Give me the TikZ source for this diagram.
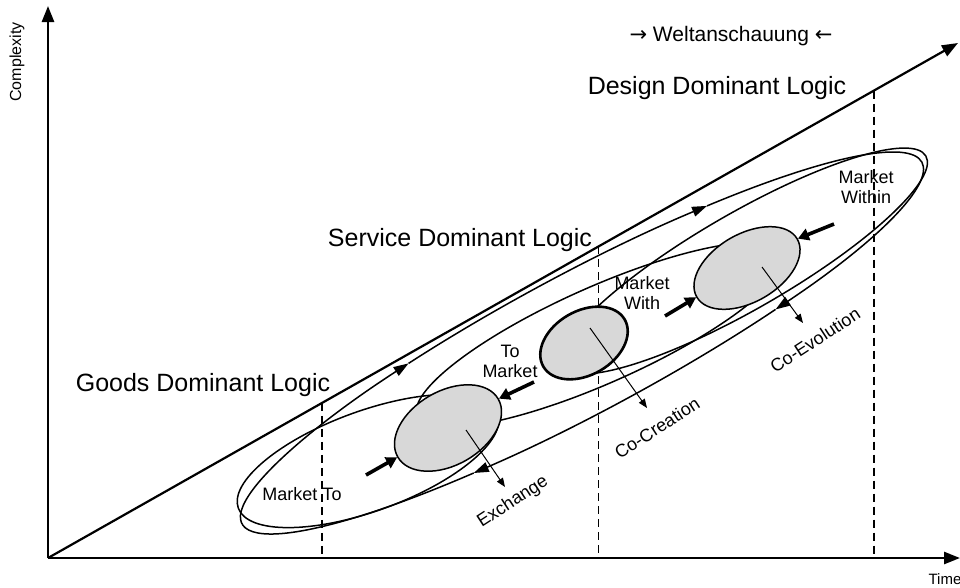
\documentclass[tikz,border=0pt]{standalone}
\usepackage{fontspec}
\setmainfont{Liberation Sans}
\newfontfamily\arrowfont{DejaVu Sans}
\usetikzlibrary{calc,arrows.meta,shapes.geometric}
\definecolor{cellgrey}{RGB}{216,216,216}

\begin{document}
\begin{tikzpicture}[x=1pt,y=-1pt,
  axis/.style={line width=2.6pt,-{Triangle[length=16pt,width=12pt]}},
  loop/.style={line width=1.5pt},
  flow/.style={line width=1.5pt,-{Triangle[length=15pt,width=10pt]}},
  cell/.style={ellipse,draw,line width=1.5pt,fill=cellgrey,inner sep=0pt},
  push/.style={line width=3.6pt,-{Triangle[length=11pt,width=12pt]}},
  result/.style={line width=1pt,-{Triangle[length=9pt,width=7pt]}},
  divider/.style={line width=1.6pt,dash pattern=on 8pt off 5pt},
  logic/.style={font=\fontsize{25}{28}\selectfont},
  tag/.style={font=\fontsize{18}{20}\selectfont,align=center},
  outcome/.style={font=\fontsize{18}{20}\selectfont,rotate=33}]
\useasboundingbox (0,0) rectangle (960,587);

% axes
\coordinate (O) at (48,558);
\coordinate (ytop) at (48,6);
\coordinate (xend) at (960,558);
\coordinate (T) at (958,43);
\draw[axis] (O) -- (ytop);
\draw[axis] (O) -- (xend);
\draw[line width=2.2pt,-{Triangle[length=16pt,width=12pt]}] (O) -- (T);
\path (17,62) node[rotate=90,font=\fontsize{16}{18}\selectfont] (complexity) {Complexity};
\path (945,579) node[font=\fontsize{15}{17}\selectfont] (time) {Time};

% time borders
\foreach \t in {0.3014,0.605,0.9076}{
  \path ($(O)!\t!(T)$) coordinate (d);
  \draw[divider] (d) -- (d |- O);
}

% inner loops, ends hidden under the cells
\draw[loop,rotate around={20:(368,461)}] (368,461) ellipse[x radius=138,y radius=50];
\draw[loop,rotate around={24:(600,335)}] (600,335) ellipse[x radius=200,y radius=48];
\draw[loop,rotate around={30:(744,261)}] (744,261) ellipse[x radius=210,y radius=48];

% grey cells
\path (448,428) node[cell,minimum width=116pt,minimum height=74pt,rotate=30] (exchange) {};
\path (584,343) node[cell,line width=2.6pt,minimum width=94pt,minimum height=64pt,rotate=30] (cocreation) {};
\path (747,268) node[cell,minimum width=116pt,minimum height=68pt,rotate=30] (coevolution) {};

% outer loop with the flow
\begin{scope}[shift={(582,343)},rotate=28]
\draw[flow] (0:385 and 70) arc[start angle=0,end angle=61,x radius=385,y radius=70];
\draw[flow] (61:385 and 70) arc[start angle=61,end angle=114,x radius=385,y radius=70];
\draw[flow] (114:385 and 70) arc[start angle=114,end angle=245,x radius=385,y radius=70];
\draw[flow] (245:385 and 70) arc[start angle=245,end angle=297,x radius=385,y radius=70];
\draw[loop] (297:385 and 70) arc[start angle=297,end angle=360,x radius=385,y radius=70];
\end{scope}

% pushing arrows
\coordinate (p1) at (366,475);
\coordinate (p2) at (534,382);
\coordinate (p3) at (665,316);
\coordinate (p4) at (834,224);
\draw[push] (p1) -- (exchange.west);
\draw[push] (p2) -- (exchange.east);
\draw[push] (p3) -- (coevolution.west);
\draw[push] (p4) -- (coevolution.east);

% outcomes
\path (513,502) node[outcome] (exch) {Exchange};
\path (657,428) node[outcome] (cocr) {Co-Creation};
\path (815,340) node[outcome] (coev) {Co-Evolution};
\coordinate (e1) at (505,487);
\coordinate (e2) at (647,408);
\coordinate (e3) at (803,323);
\draw[result] ([shift={(18,2)}]exchange.center) -- (e1);
\draw[result] ([shift={(6,-15)}]cocreation.center) -- (e2);
\draw[result] ([shift={(15,-1)}]coevolution.center) -- (e3);

% labels
\path (302,494) node[tag] (mto) {Market To};
\path (510,361) node[tag] (tomarket) {To\\Market};
\path (642,293) node[tag] (mwith) {Market\\With};
\path (866,187) node[tag] (mwithin) {Market\\Within};
\path (203,385) node[logic] (goods) {Goods Dominant Logic};
\path (460,240) node[logic] (service) {Service Dominant Logic};
\path (717,88) node[logic] (design) {Design Dominant Logic};
\path (731,36) node[font=\fontsize{21}{24}\selectfont] (welt) {{\arrowfont →} Weltanschauung {\arrowfont ←}};
\end{tikzpicture}
\end{document}
